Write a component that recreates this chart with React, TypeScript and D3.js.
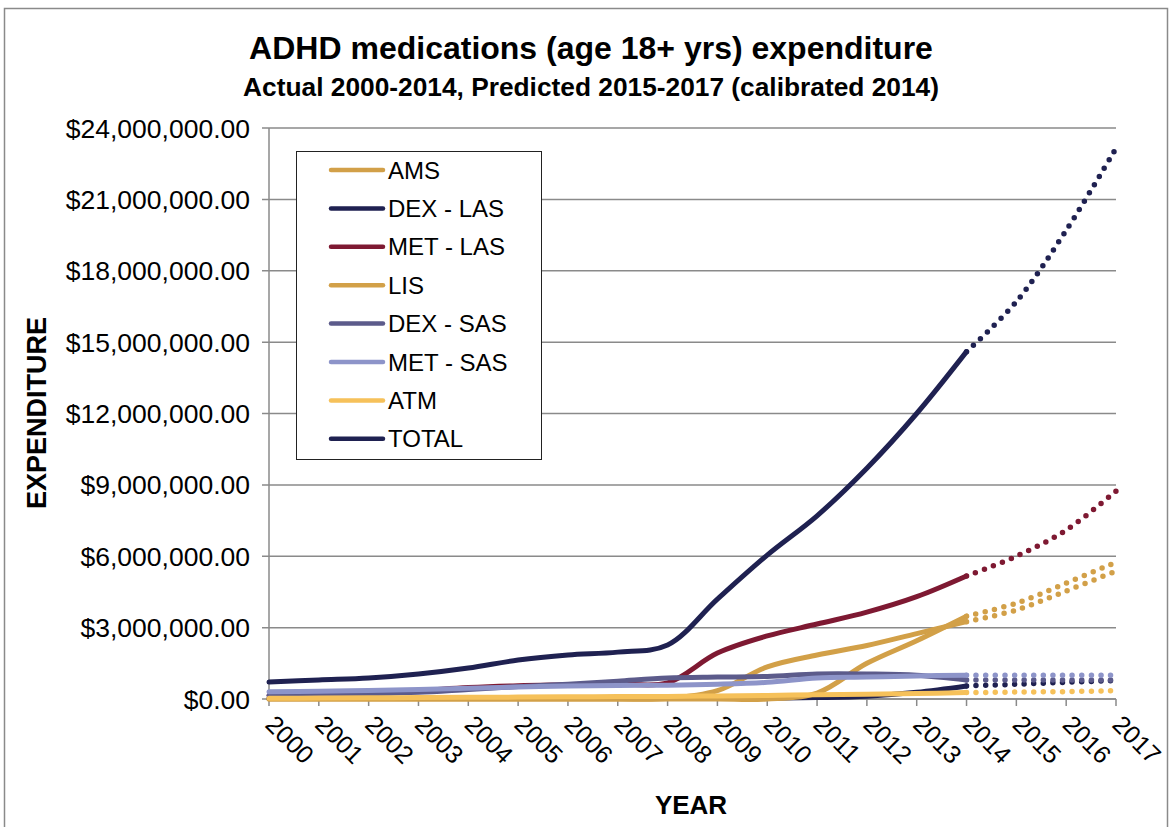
import React, { useEffect } from 'react';
import * as d3 from 'd3';

const years = [2000, 2001, 2002, 2003, 2004, 2005, 2006, 2007, 2008, 2009, 2010, 2011, 2012, 2013, 2014, 2015, 2016, 2017];
const yearLabels = ['2000', '2001', '2002', '2003', '2004', '2005', '2006', '2007', '2008', '2009', '2010', '2011', '2012', '2013', '2014', '2015', '2016', '2017'];
const yTicks = [0, 3e6, 6e6, 9e6, 12e6, 15e6, 18e6, 21e6, 24e6];

// values in $ millions, actual 2000-2014
const amsActual = [0, 0, 0, 0, 0, 0, 0, 0, 0.02, 0.35, 1.35, 1.85, 2.25, 2.75, 3.25];
const dexLasActual = [0.02, 0.02, 0.02, 0.02, 0.02, 0.02, 0.02, 0.02, 0.02, 0.02, 0.03, 0.06, 0.12, 0.28, 0.55];
const metLasActual = [0.15, 0.2, 0.25, 0.35, 0.48, 0.56, 0.6, 0.64, 0.68, 1.93, 2.65, 3.15, 3.65, 4.3, 5.17];
const lisActual = [0, 0, 0, 0, 0, 0, 0, 0, 0, 0, 0, 0.25, 1.5, 2.45, 3.48];
const dexSasActual = [0.15, 0.18, 0.22, 0.28, 0.4, 0.52, 0.62, 0.75, 0.88, 0.92, 0.95, 1.05, 1.05, 1.0, 0.8];
const metSasActual = [0.3, 0.33, 0.36, 0.4, 0.45, 0.5, 0.55, 0.57, 0.58, 0.62, 0.7, 0.88, 0.92, 0.97, 1.0];
const atmActual = [0.03, 0.04, 0.05, 0.06, 0.07, 0.08, 0.09, 0.1, 0.11, 0.13, 0.15, 0.18, 0.2, 0.23, 0.27];
const totalActual = [0.71, 0.8, 0.88, 1.05, 1.3, 1.64, 1.85, 1.97, 2.27, 4.2, 6.05, 7.7, 9.7, 12.0, 14.6];

// predicted 2015-2017
const amsPredicted = [3.74, 4.54, 5.38];
const dexLasPredicted = [0.62, 0.7, 0.78];
const metLasPredicted = [6.0, 7.1, 8.74];
const lisPredicted = [4.03, 4.87, 5.75];
const dexSasPredicted = [0.8, 0.8, 0.8];
const metSasPredicted = [1.0, 1.0, 1.0];
const atmPredicted = [0.29, 0.31, 0.35];
const totalPredicted = [16.7, 19.7, 23.15];

const seriesNames = ['AMS', 'DEX - LAS', 'MET - LAS', 'LIS', 'DEX - SAS', 'MET - SAS', 'ATM', 'TOTAL'];
const seriesColors = ['#D2A048', '#1F2151', '#7E1932', '#D2A048', '#5C5B8B', '#8D94C9', '#F6C15A', '#1F2151'];
const actualValues = [amsActual, dexLasActual, metLasActual, lisActual, dexSasActual, metSasActual, atmActual, totalActual];
const predictedValues = [amsPredicted, dexLasPredicted, metLasPredicted, lisPredicted, dexSasPredicted, metSasPredicted, atmPredicted, totalPredicted];

const font = '"Liberation Sans", Arial, sans-serif';

const App = () => {
  useEffect(() => {
    document.body.style.margin = '0';
  }, []);

  const left = 269, right = 1116, top = 128, bottom = 699;
  const x = d3.scaleLinear().domain([2000, 2017]).range([left, right]);
  const y = d3.scaleLinear().domain([0, 24e6]).range([bottom, top]);
  const fmt = d3.format('$,.2f');

  const line = d3
    .line<[number, number]>()
    .x((d) => x(d[0]))
    .y((d) => y(d[1] * 1e6))
    .curve(d3.curveCatmullRom.alpha(0.5));

  const actualYears = years.slice(0, 15);
  const predYears = years.slice(14);

  return (
    <svg width={1172} height={827} style={{ display: 'block', background: '#fff' }} fontFamily={font}>
      <rect x={4.5} y={8.5} width={1163} height={830} fill="#fff" stroke="#8a8a8a" strokeWidth={1.5} />

      <text x={591} y={59} textAnchor="middle" fontSize={32} fontWeight="bold">
        ADHD medications (age 18+ yrs) expenditure
      </text>
      <text x={591} y={96} textAnchor="middle" fontSize={26.3} fontWeight="bold">
        Actual 2000-2014, Predicted 2015-2017 (calibrated 2014)
      </text>

      {/* gridlines + y axis labels */}
      {yTicks.map((t) => (
        <g key={t}>
          <line x1={left - 7} x2={right} y1={y(t)} y2={y(t)} stroke="#8a8a8a" strokeWidth={1.5} />
          <text x={250} y={y(t)} dy="0.36em" textAnchor="end" fontSize={26.5}>
            {fmt(t)}
          </text>
        </g>
      ))}
      <line x1={left} x2={left} y1={top} y2={bottom} stroke="#8a8a8a" strokeWidth={1.5} />

      {/* x axis */}
      <line x1={left} x2={right} y1={bottom} y2={bottom} stroke="#8a8a8a" strokeWidth={1.5} />
      {years.map((yr, i) => (
        <g key={yr}>
          <line x1={x(yr)} x2={x(yr)} y1={bottom} y2={bottom + 7} stroke="#8a8a8a" strokeWidth={1.5} />
          <text transform={`translate(${x(yr) - 5},${726}) rotate(45)`} fontSize={25}>
            {yearLabels[i]}
          </text>
        </g>
      ))}

      <text x={691} y={814} textAnchor="middle" fontSize={26} fontWeight="bold">
        YEAR
      </text>
      <text transform="translate(46,413) rotate(-90)" textAnchor="middle" fontSize={27} fontWeight="bold">
        EXPENDITURE
      </text>

      {/* actual lines */}
      {actualValues.map((vals, i) => (
        <path
          key={'a' + i}
          d={line(actualYears.map((yr, j) => [yr, vals[j]] as [number, number])) || ''}
          fill="none"
          stroke={seriesColors[i]}
          strokeWidth={5}
          strokeLinecap="round"
        />
      ))}

      {/* predicted dotted lines */}
      {predictedValues.map((vals, i) => (
        <path
          key={'p' + i}
          d={line(predYears.map((yr, j) => [yr, j === 0 ? actualValues[i][14] : vals[j - 1]] as [number, number])) || ''}
          fill="none"
          stroke={seriesColors[i]}
          strokeWidth={5.5}
          strokeLinecap="round"
          strokeDasharray="0 9.6"
        />
      ))}

      {/* legend */}
      <rect x={296.5} y={151.5} width={245} height={308} fill="#fff" stroke="#222" strokeWidth={1} />
      {seriesNames.map((name, i) => (
        <g key={name} transform={`translate(0,${170 + i * 38.4})`}>
          <line x1={331} x2={383} y1={0} y2={0} stroke={seriesColors[i]} strokeWidth={4.5} strokeLinecap="round" />
          <text x={388} y={0} dy="0.36em" fontSize={24}>
            {name}
          </text>
        </g>
      ))}
    </svg>
  );
};

export default App;
